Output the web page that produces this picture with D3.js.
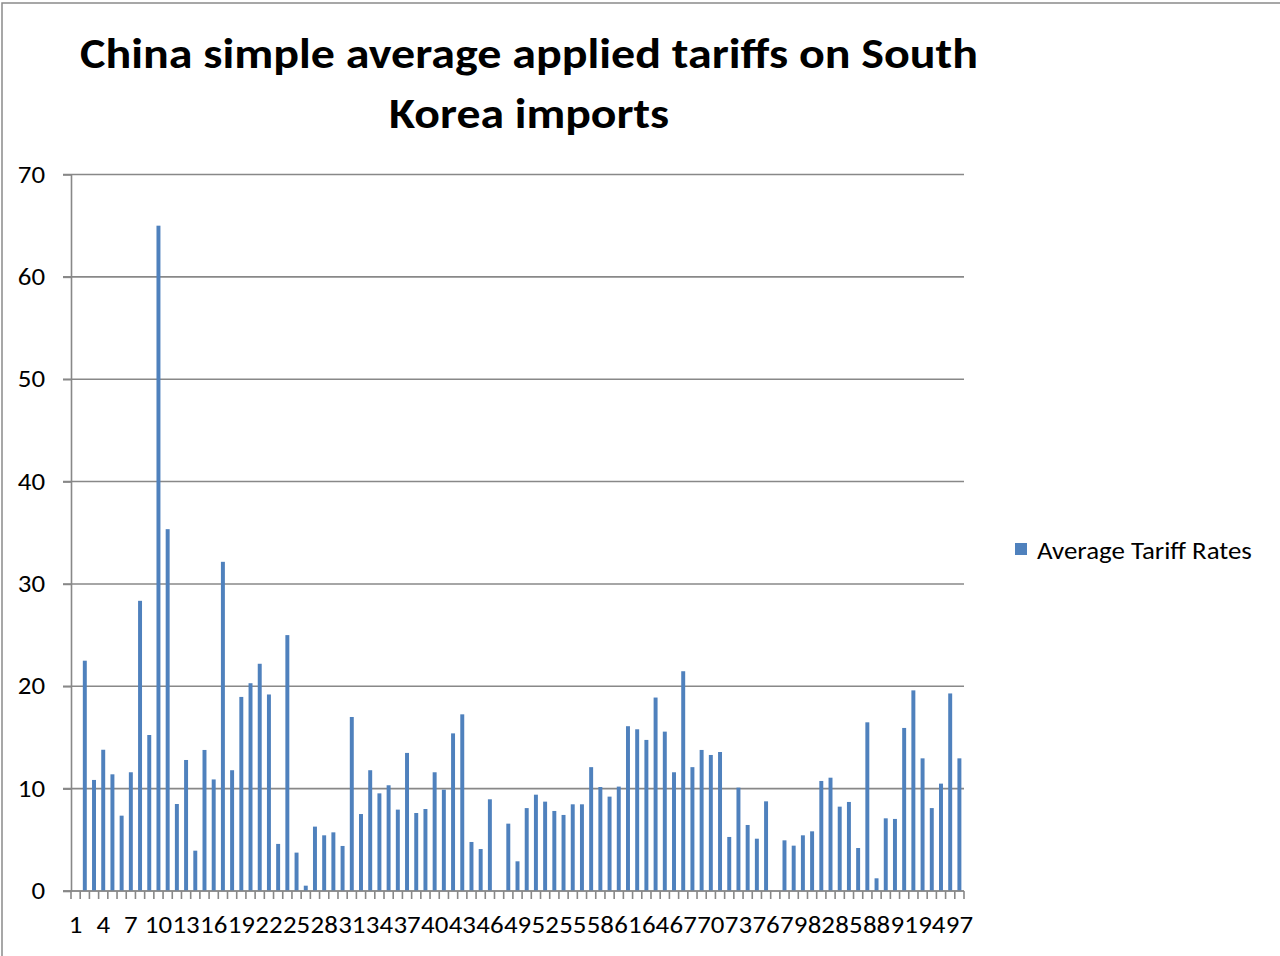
<!DOCTYPE html>
<html>
<head>
<meta charset="utf-8">
<title>China simple average applied tariffs on South Korea imports</title>
<script src="https://d3js.org/d3.v7.min.js"></script>
<style>
  body { margin: 0; background: #fff; }
  text { font-family: Carlito, Calibri, Lato, sans-serif; fill: #000; }
</style>
</head>
<body>
<div id="chart"></div>
<script>

// categories 1..97 (product groups); null = blank cell
var categories = d3.range(1, 98).map(String);
var tariffs = [
  null, 22.5, 10.85, 13.8, 11.4, 7.36, 11.6, 28.35, 15.24, 65.0,
  35.35, 8.5, 12.8, 3.94, 13.78, 10.9, 32.16, 11.8, 18.96, 20.3,
  22.2, 19.2, 4.6, 25.0, 3.75, 0.52, 6.29, 5.44, 5.73, 4.4,
  17.0, 7.52, 11.8, 9.54, 10.33, 7.95, 13.49, 7.62, 8.01, 11.6,
  9.9, 15.4, 17.26, 4.79, 4.1, 8.96, null, 6.58, 2.9, 8.1,
  9.41, 8.73, 7.82, 7.43, 8.47, 8.47, 12.1, 10.16, 9.22, 10.2,
  16.1, 15.8, 14.76, 18.9, 15.57, 11.6, 21.47, 12.1, 13.78, 13.29,
  13.58, 5.28, 10.1, 6.45, 5.11, 8.76, null, 4.95, 4.43, 5.44,
  5.83, 10.75, 11.07, 8.24, 8.7, 4.2, 16.48, 1.24, 7.1, 7.04,
  15.93, 19.6, 12.96, 8.1, 10.49, 19.3, 12.96
];
var yTicks = [0, 10, 20, 30, 40, 50, 60, 70];
var xTickLabels = categories.filter(function(d, i) { return i % 3 === 0; });
var seriesName = "Average Tariff Rates";
var titleLines = ["China simple average applied tariffs on South", "Korea imports"];

var data = categories.map(function(c, i) { return {cat: c, value: tariffs[i]}; });

var W = 1280, H = 956;
var plotLeft = 71, plotRight = 964, plotTop = 174.5, plotBottom = 891;
var stretch = 1.12; // the original text is a bit wider than Calibri

var svg = d3.select("#chart").append("svg")
    .attr("width", W)
    .attr("height", H);

// widen a text horizontally to match the original
function widen(sel) {
  sel.each(function() {
    var w = this.getComputedTextLength();
    d3.select(this).attr("textLength", w * stretch).attr("lengthAdjust", "spacingAndGlyphs");
  });
}

// chart frame (only top and left edges fall inside the picture)
svg.append("rect")
    .attr("x", 2).attr("y", 3)
    .attr("width", W + 20).attr("height", H + 20)
    .attr("fill", "none")
    .attr("stroke", "#8a8a8a")
    .attr("stroke-width", 1.5);

var x = d3.scaleBand()
    .domain(categories)
    .range([plotLeft, plotRight])
    .paddingInner(0.57)
    .paddingOuter(0.285);

var y = d3.scaleLinear()
    .domain([0, 70])
    .range([plotBottom, plotTop]);

// gridlines
svg.append("g")
  .selectAll("line")
  .data(yTicks)
  .enter().append("line")
    .attr("x1", plotLeft - 8)
    .attr("x2", plotRight)
    .attr("y1", function(d) { return y(d); })
    .attr("y2", function(d) { return y(d); })
    .attr("stroke", "#888")
    .attr("stroke-width", 1.6);

// y axis
var yAxis = svg.append("g")
    .attr("transform", "translate(" + plotLeft + ",0)")
    .call(d3.axisLeft(y).tickValues(yTicks).tickSizeInner(8).tickSizeOuter(0).tickPadding(18));
yAxis.select(".domain").attr("stroke", "#888").attr("stroke-width", 1.6);
yAxis.selectAll(".tick line").attr("stroke", "#888").attr("stroke-width", 1.6);
yAxis.selectAll("text").style("font-size", "24px").attr("fill", "#000")
    .style("font-family", "Carlito, Calibri, Lato, sans-serif")
    .call(widen);

// bars
svg.append("g")
  .selectAll("rect")
  .data(data.filter(function(d) { return d.value != null; }))
  .enter().append("rect")
    .attr("x", function(d) { return x(d.cat); })
    .attr("width", x.bandwidth())
    .attr("y", function(d) { return y(d.value); })
    .attr("height", function(d) { return y(0) - y(d.value); })
    .attr("fill", "#4F81BD");

// x axis line + tick marks at category boundaries
var half = (x.step() - x.bandwidth()) / 2;
var bounds = categories.map(function(c) { return x(c) - half; });
bounds.push(plotRight);
svg.append("g")
  .selectAll("line")
  .data(bounds)
  .enter().append("line")
    .attr("x1", function(d) { return d; })
    .attr("x2", function(d) { return d; })
    .attr("y1", plotBottom)
    .attr("y2", plotBottom + 8)
    .attr("stroke", "#888")
    .attr("stroke-width", 1.6);

var xAxis = svg.append("g")
    .attr("transform", "translate(0," + plotBottom + ")")
    .call(d3.axisBottom(x).tickValues(xTickLabels).tickSize(0).tickPadding(25));
xAxis.select(".domain").attr("stroke", "#888").attr("stroke-width", 1.6)
    .attr("d", "M" + (plotLeft - 8) + ",0H" + plotRight);
xAxis.selectAll("text").style("font-size", "24px").attr("fill", "#000")
    .style("font-family", "Carlito, Calibri, Lato, sans-serif")
    .call(widen);

// title
var titleWidths = [898, 280];
svg.append("g")
  .selectAll("text")
  .data(titleLines)
  .enter().append("text")
    .attr("x", 529)
    .attr("y", function(d, i) { return 68 + i * 60; })
    .attr("text-anchor", "middle")
    .style("font-size", "42px")
    .style("font-weight", "bold")
    .attr("textLength", function(d, i) { return titleWidths[i]; })
    .attr("lengthAdjust", "spacingAndGlyphs")
    .text(function(d) { return d; });

// legend
svg.append("rect")
    .attr("x", 1015).attr("y", 543)
    .attr("width", 12).attr("height", 12)
    .attr("fill", "#4F81BD");
svg.append("text")
    .attr("x", 1037).attr("y", 559)
    .style("font-size", "24px")
    .text(seriesName)
    .call(widen);

</script>
</body>
</html>
